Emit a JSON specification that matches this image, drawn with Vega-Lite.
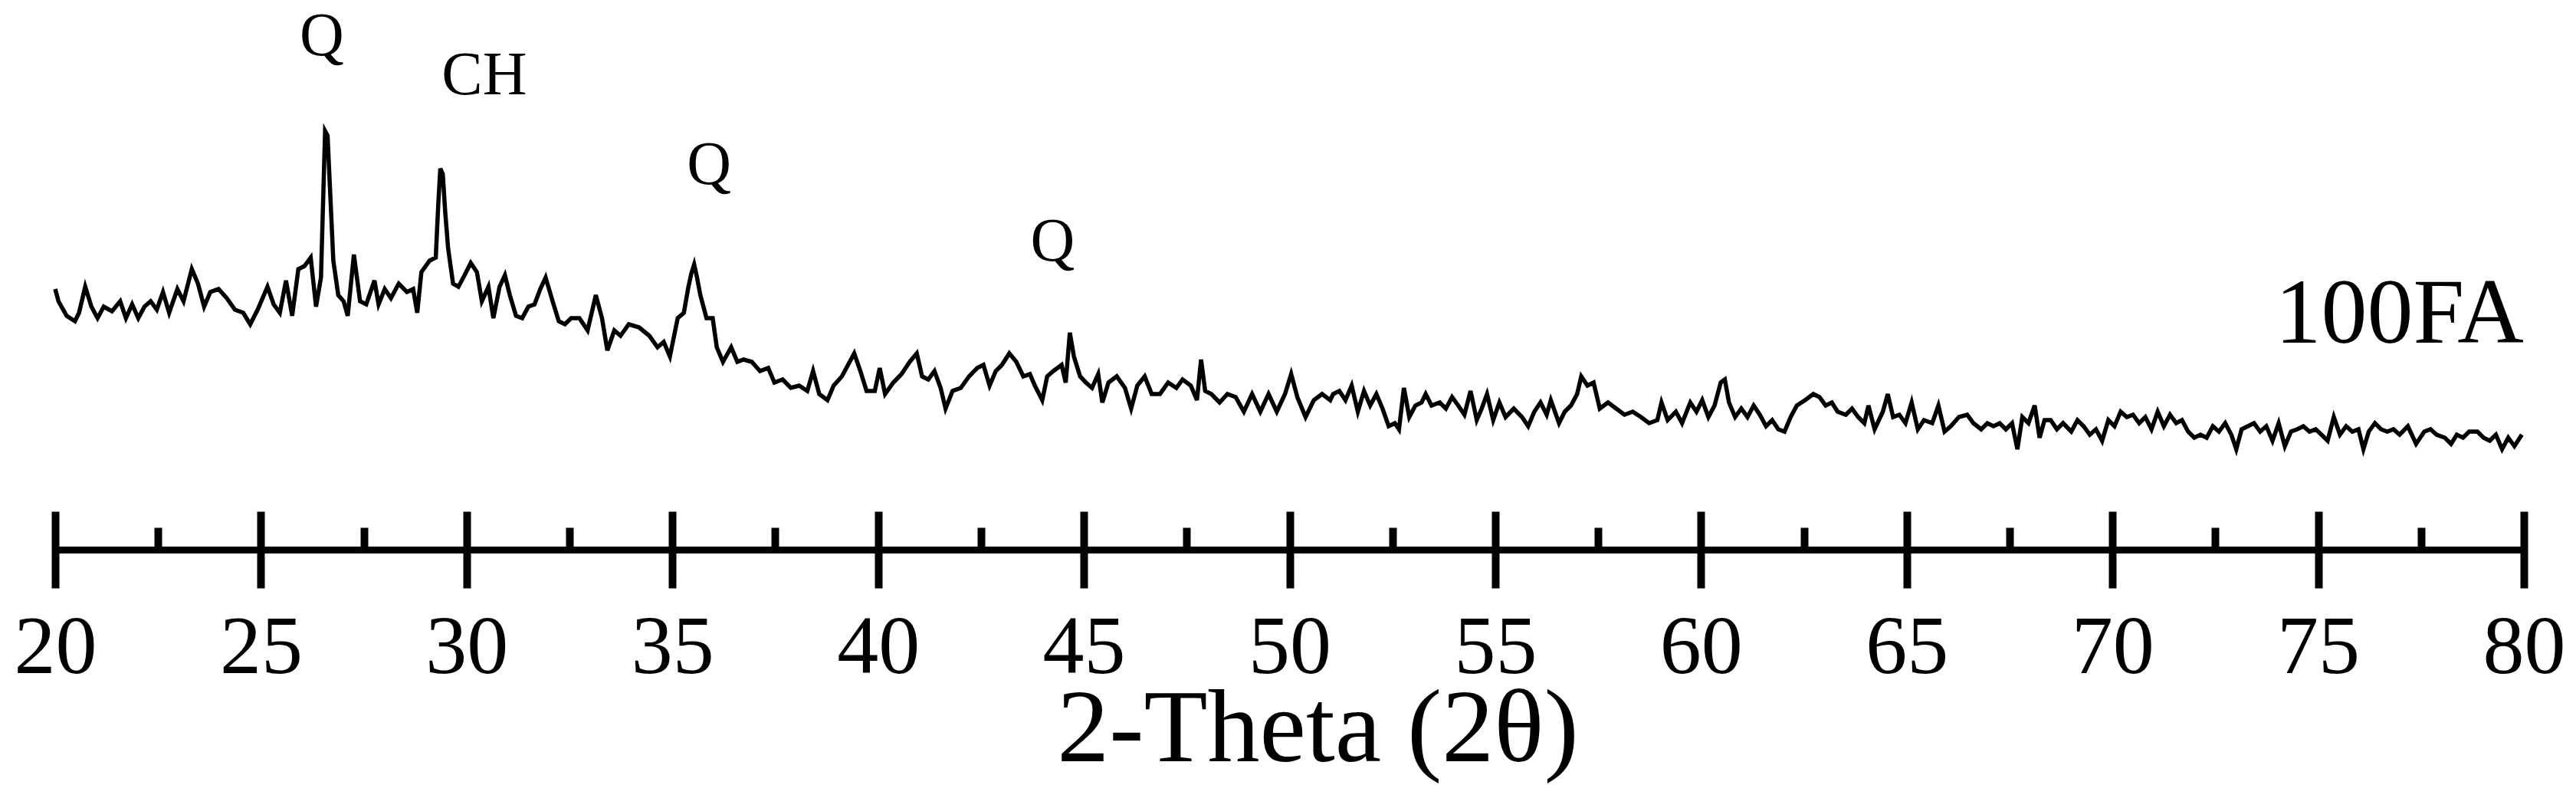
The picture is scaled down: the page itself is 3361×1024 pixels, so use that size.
{
  "$schema": "https://vega.github.io/schema/vega-lite/v6.json",
  "width": 3221,
  "height": 717,
  "autosize": {"type": "none"},
  "padding": {"left": 72, "top": 0, "right": 68, "bottom": 307},
  "background": "white",
  "config": {"view": {"stroke": null}, "font": "Liberation Serif"},
  "layer": [
    {
      "data": {"values": [
        {"angle":20.00,"intensity":340},{"angle":20.08,"intensity":324},{"angle":20.28,"intensity":305},{"angle":20.48,"intensity":298},{"angle":20.58,"intensity":309},{"angle":20.73,"intensity":343},{"angle":20.88,"intensity":317},{"angle":21.03,"intensity":302},{"angle":21.18,"intensity":317},{"angle":21.38,"intensity":311},{"angle":21.58,"intensity":324},{"angle":21.72,"intensity":302},{"angle":21.87,"intensity":320},{"angle":22.02,"intensity":302},{"angle":22.17,"intensity":317},{"angle":22.32,"intensity":324},{"angle":22.47,"intensity":313},{"angle":22.62,"intensity":336},{"angle":22.77,"intensity":309},{"angle":22.97,"intensity":340},{"angle":23.12,"intensity":324},{"angle":23.32,"intensity":366},{"angle":23.47,"intensity":347},{"angle":23.62,"intensity":317},{"angle":23.77,"intensity":336},{"angle":23.97,"intensity":340},{"angle":24.17,"intensity":328},{"angle":24.37,"intensity":313},{"angle":24.57,"intensity":309},{"angle":24.74,"intensity":294},{"angle":24.92,"intensity":313},{"angle":25.16,"intensity":343},{"angle":25.31,"intensity":320},{"angle":25.46,"intensity":309},{"angle":25.61,"intensity":351},{"angle":25.76,"intensity":305},{"angle":25.91,"intensity":366},{"angle":26.06,"intensity":370},{"angle":26.21,"intensity":381},{"angle":26.34,"intensity":317},{"angle":26.46,"intensity":355},{"angle":26.52,"intensity":470},{"angle":26.56,"intensity":546},{"angle":26.62,"intensity":540},{"angle":26.68,"intensity":470},{"angle":26.76,"intensity":377},{"angle":26.88,"intensity":332},{"angle":27.01,"intensity":324},{"angle":27.11,"intensity":305},{"angle":27.26,"intensity":385},{"angle":27.41,"intensity":324},{"angle":27.56,"intensity":320},{"angle":27.76,"intensity":351},{"angle":27.86,"intensity":320},{"angle":28.01,"intensity":340},{"angle":28.16,"intensity":328},{"angle":28.35,"intensity":347},{"angle":28.55,"intensity":336},{"angle":28.70,"intensity":340},{"angle":28.80,"intensity":309},{"angle":28.90,"intensity":362},{"angle":29.10,"intensity":377},{"angle":29.25,"intensity":381},{"angle":29.31,"intensity":450},{"angle":29.36,"intensity":497},{"angle":29.42,"intensity":490},{"angle":29.48,"intensity":440},{"angle":29.55,"intensity":393},{"angle":29.67,"intensity":347},{"angle":29.80,"intensity":343},{"angle":29.95,"intensity":358},{"angle":30.10,"intensity":374},{"angle":30.25,"intensity":362},{"angle":30.37,"intensity":324},{"angle":30.53,"intensity":343},{"angle":30.65,"intensity":302},{"angle":30.80,"intensity":343},{"angle":30.93,"intensity":358},{"angle":31.05,"intensity":332},{"angle":31.20,"intensity":305},{"angle":31.35,"intensity":302},{"angle":31.50,"intensity":317},{"angle":31.65,"intensity":320},{"angle":31.79,"intensity":340},{"angle":31.92,"intensity":355},{"angle":32.09,"intensity":324},{"angle":32.24,"intensity":298},{"angle":32.39,"intensity":294},{"angle":32.54,"intensity":302},{"angle":32.74,"intensity":302},{"angle":32.94,"intensity":286},{"angle":33.14,"intensity":332},{"angle":33.29,"intensity":302},{"angle":33.42,"intensity":260},{"angle":33.59,"intensity":286},{"angle":33.74,"intensity":279},{"angle":33.94,"intensity":294},{"angle":34.19,"intensity":290},{"angle":34.44,"intensity":279},{"angle":34.64,"intensity":264},{"angle":34.79,"intensity":271},{"angle":34.94,"intensity":252},{"angle":35.13,"intensity":302},{"angle":35.28,"intensity":309},{"angle":35.38,"intensity":340},{"angle":35.46,"intensity":360},{"angle":35.53,"intensity":372},{"angle":35.60,"intensity":355},{"angle":35.68,"intensity":332},{"angle":35.83,"intensity":302},{"angle":35.98,"intensity":302},{"angle":36.08,"intensity":264},{"angle":36.23,"intensity":245},{"angle":36.43,"intensity":264},{"angle":36.58,"intensity":245},{"angle":36.73,"intensity":248},{"angle":36.93,"intensity":245},{"angle":37.13,"intensity":233},{"angle":37.33,"intensity":237},{"angle":37.48,"intensity":218},{"angle":37.68,"intensity":222},{"angle":37.88,"intensity":211},{"angle":38.08,"intensity":214},{"angle":38.28,"intensity":207},{"angle":38.42,"intensity":233},{"angle":38.57,"intensity":203},{"angle":38.77,"intensity":195},{"angle":38.92,"intensity":214},{"angle":39.12,"intensity":226},{"angle":39.27,"intensity":241},{"angle":39.42,"intensity":256},{"angle":39.57,"intensity":233},{"angle":39.72,"intensity":207},{"angle":39.92,"intensity":207},{"angle":40.04,"intensity":237},{"angle":40.17,"intensity":203},{"angle":40.37,"intensity":218},{"angle":40.57,"intensity":229},{"angle":40.77,"intensity":245},{"angle":40.94,"intensity":256},{"angle":41.07,"intensity":226},{"angle":41.22,"intensity":222},{"angle":41.37,"intensity":233},{"angle":41.52,"intensity":211},{"angle":41.64,"intensity":184},{"angle":41.81,"intensity":207},{"angle":42.01,"intensity":211},{"angle":42.21,"intensity":226},{"angle":42.41,"intensity":237},{"angle":42.56,"intensity":241},{"angle":42.71,"intensity":214},{"angle":42.86,"intensity":233},{"angle":43.01,"intensity":241},{"angle":43.19,"intensity":256},{"angle":43.36,"intensity":245},{"angle":43.53,"intensity":226},{"angle":43.69,"intensity":229},{"angle":43.81,"intensity":214},{"angle":43.99,"intensity":195},{"angle":44.11,"intensity":226},{"angle":44.26,"intensity":233},{"angle":44.46,"intensity":241},{"angle":44.56,"intensity":218},{"angle":44.66,"intensity":283},{"angle":44.76,"intensity":252},{"angle":44.91,"intensity":226},{"angle":45.05,"intensity":218},{"angle":45.20,"intensity":211},{"angle":45.35,"intensity":229},{"angle":45.45,"intensity":192},{"angle":45.60,"intensity":218},{"angle":45.80,"intensity":226},{"angle":46.00,"intensity":211},{"angle":46.15,"intensity":184},{"angle":46.30,"intensity":214},{"angle":46.48,"intensity":226},{"angle":46.65,"intensity":203},{"angle":46.85,"intensity":203},{"angle":47.05,"intensity":218},{"angle":47.25,"intensity":211},{"angle":47.40,"intensity":222},{"angle":47.60,"intensity":214},{"angle":47.75,"intensity":195},{"angle":47.85,"intensity":248},{"angle":47.95,"intensity":207},{"angle":48.10,"intensity":203},{"angle":48.30,"intensity":192},{"angle":48.49,"intensity":203},{"angle":48.69,"intensity":199},{"angle":48.89,"intensity":180},{"angle":49.09,"intensity":203},{"angle":49.29,"intensity":180},{"angle":49.49,"intensity":203},{"angle":49.69,"intensity":180},{"angle":49.89,"intensity":203},{"angle":50.04,"intensity":229},{"angle":50.19,"intensity":199},{"angle":50.39,"intensity":173},{"angle":50.59,"intensity":195},{"angle":50.79,"intensity":203},{"angle":50.99,"intensity":195},
        {"angle":51.06,"intensity":203},{"angle":51.21,"intensity":207},{"angle":51.36,"intensity":195},{"angle":51.51,"intensity":214},{"angle":51.66,"intensity":180},{"angle":51.81,"intensity":207},{"angle":51.96,"intensity":188},{"angle":52.11,"intensity":203},{"angle":52.26,"intensity":184},{"angle":52.41,"intensity":161},{"angle":52.56,"intensity":165},{"angle":52.66,"intensity":157},{"angle":52.78,"intensity":211},{"angle":52.91,"intensity":173},{"angle":53.06,"intensity":188},{"angle":53.21,"intensity":192},{"angle":53.31,"intensity":203},{"angle":53.45,"intensity":188},{"angle":53.65,"intensity":192},{"angle":53.80,"intensity":184},{"angle":53.95,"intensity":199},{"angle":54.10,"intensity":188},{"angle":54.25,"intensity":176},{"angle":54.40,"intensity":207},{"angle":54.55,"intensity":169},{"angle":54.67,"intensity":184},{"angle":54.80,"intensity":203},{"angle":54.95,"intensity":169},{"angle":55.10,"intensity":192},{"angle":55.25,"intensity":173},{"angle":55.45,"intensity":184},{"angle":55.65,"intensity":173},{"angle":55.80,"intensity":161},{"angle":55.95,"intensity":180},{"angle":56.10,"intensity":192},{"angle":56.25,"intensity":176},{"angle":56.35,"intensity":195},{"angle":56.55,"intensity":165},{"angle":56.69,"intensity":180},{"angle":56.84,"intensity":188},{"angle":56.99,"intensity":203},{"angle":57.09,"intensity":226},{"angle":57.24,"intensity":214},{"angle":57.39,"intensity":218},{"angle":57.54,"intensity":184},{"angle":57.74,"intensity":192},{"angle":57.94,"intensity":184},{"angle":58.14,"intensity":176},{"angle":58.34,"intensity":180},{"angle":58.54,"intensity":173},{"angle":58.74,"intensity":165},{"angle":58.94,"intensity":169},{"angle":59.04,"intensity":192},{"angle":59.19,"intensity":169},{"angle":59.39,"intensity":180},{"angle":59.54,"intensity":165},{"angle":59.74,"intensity":192},{"angle":59.89,"intensity":180},{"angle":60.03,"intensity":195},{"angle":60.18,"intensity":173},{"angle":60.33,"intensity":188},{"angle":60.48,"intensity":218},{"angle":60.58,"intensity":222},{"angle":60.68,"intensity":192},{"angle":60.83,"intensity":173},{"angle":60.98,"intensity":184},{"angle":61.13,"intensity":173},{"angle":61.28,"intensity":188},{"angle":61.43,"intensity":176},{"angle":61.58,"intensity":161},{"angle":61.73,"intensity":169},{"angle":61.88,"intensity":157},{"angle":62.03,"intensity":154},{"angle":62.18,"intensity":173},{"angle":62.33,"intensity":188},{"angle":62.53,"intensity":195},{"angle":62.73,"intensity":203},{"angle":62.88,"intensity":199},{"angle":63.03,"intensity":188},{"angle":63.18,"intensity":192},{"angle":63.32,"intensity":180},{"angle":63.52,"intensity":176},{"angle":63.67,"intensity":184},{"angle":63.82,"intensity":173},{"angle":63.97,"intensity":165},{"angle":64.07,"intensity":188},{"angle":64.22,"intensity":157},{"angle":64.42,"intensity":180},{"angle":64.54,"intensity":203},{"angle":64.67,"intensity":173},{"angle":64.82,"intensity":176},{"angle":64.97,"intensity":165},{"angle":65.12,"intensity":192},{"angle":65.27,"intensity":157},{"angle":65.42,"intensity":169},{"angle":65.62,"intensity":165},{"angle":65.77,"intensity":188},{"angle":65.92,"intensity":154},{"angle":66.07,"intensity":161},{"angle":66.27,"intensity":173},{"angle":66.47,"intensity":176},{"angle":66.62,"intensity":165},
        {"angle":66.81,"intensity":157},{"angle":66.96,"intensity":165},{"angle":67.11,"intensity":161},{"angle":67.26,"intensity":165},{"angle":67.41,"intensity":157},{"angle":67.56,"intensity":165},{"angle":67.69,"intensity":131},{"angle":67.81,"intensity":173},{"angle":67.96,"intensity":165},{"angle":68.11,"intensity":188},{"angle":68.23,"intensity":146},{"angle":68.35,"intensity":169},{"angle":68.50,"intensity":169},{"angle":68.65,"intensity":157},{"angle":68.80,"intensity":165},{"angle":69.00,"intensity":154},{"angle":69.15,"intensity":169},{"angle":69.30,"intensity":161},{"angle":69.45,"intensity":150},{"angle":69.60,"intensity":157},{"angle":69.75,"intensity":142},{"angle":69.90,"intensity":169},{"angle":70.05,"intensity":161},{"angle":70.20,"intensity":180},{"angle":70.35,"intensity":173},{"angle":70.50,"intensity":176},{"angle":70.65,"intensity":165},{"angle":70.80,"intensity":173},{"angle":70.95,"intensity":157},{"angle":71.10,"intensity":180},{"angle":71.25,"intensity":161},{"angle":71.40,"intensity":176},{"angle":71.55,"intensity":165},{"angle":71.69,"intensity":169},{"angle":71.84,"intensity":154},{"angle":71.99,"intensity":146},{"angle":72.14,"intensity":150},{"angle":72.29,"intensity":146},{"angle":72.44,"intensity":161},{"angle":72.59,"intensity":154},{"angle":72.74,"intensity":165},{"angle":72.89,"intensity":150},{"angle":73.01,"intensity":131},{"angle":73.14,"intensity":157},{"angle":73.29,"intensity":161},{"angle":73.44,"intensity":165},{"angle":73.59,"intensity":154},{"angle":73.74,"intensity":161},{"angle":73.89,"intensity":142},{"angle":74.04,"intensity":165},{"angle":74.19,"intensity":135},{"angle":74.34,"intensity":154},{"angle":74.49,"intensity":157},{"angle":74.64,"intensity":161},{"angle":74.79,"intensity":154},{"angle":74.94,"intensity":157},{"angle":75.08,"intensity":150},{"angle":75.23,"intensity":142},{"angle":75.38,"intensity":173},{"angle":75.53,"intensity":150},{"angle":75.68,"intensity":161},{"angle":75.83,"intensity":154},{"angle":75.98,"intensity":157},{"angle":76.10,"intensity":131},{"angle":76.23,"intensity":154},{"angle":76.38,"intensity":165},{"angle":76.53,"intensity":157},{"angle":76.68,"intensity":154},{"angle":76.83,"intensity":157},{"angle":76.98,"intensity":150},{"angle":77.18,"intensity":161},{"angle":77.38,"intensity":138},{"angle":77.58,"intensity":154},{"angle":77.73,"intensity":157},{"angle":77.88,"intensity":150},{"angle":78.08,"intensity":146},{"angle":78.23,"intensity":138},{"angle":78.37,"intensity":150},{"angle":78.52,"intensity":146},{"angle":78.67,"intensity":154},{"angle":78.87,"intensity":154},{"angle":79.02,"intensity":146},{"angle":79.17,"intensity":142},{"angle":79.32,"intensity":150},{"angle":79.47,"intensity":131},{"angle":79.62,"intensity":146},{"angle":79.77,"intensity":135},{"angle":79.95,"intensity":150}
      ]},
      "mark": {"type": "line", "color": "black", "strokeWidth": 5.5},
      "encoding": {
        "x": {
          "field": "angle", "type": "quantitative",
          "scale": {"domain": [20, 80], "nice": false, "zero": false},
          "axis": {
            "orient": "bottom", "offset": -50, "domain": false, "grid": false,
            "values": [20, 25, 30, 35, 40, 45, 50, 55, 60, 65, 70, 75, 80],
            "tickSize": 100, "tickWidth": 10, "tickColor": "black",
            "labelFont": "Liberation Serif", "labelFontSize": 108, "labelColor": "black",
            "labelPadding": 110, "labelBaseline": "alphabetic", "labelFlush": false, "labelOverlap": false,
            "title": "2-Theta (2θ)", "titleFont": "Liberation Serif", "titleFontSize": 136,
            "titleFontWeight": "normal", "titleColor": "black",
            "titleX": 1647, "titleY": 325, "titleBaseline": "alphabetic", "titleAlign": "center"
          }
        },
        "y": {
          "field": "intensity", "type": "quantitative",
          "scale": {"domain": [0, 717], "nice": false},
          "axis": null
        }
      }
    },
    {
      "data": {"values": [
        {"angle": 26.48, "level": 645, "label": "Q"},
        {"angle": 30.43, "level": 594, "label": "CH"},
        {"angle": 35.89, "level": 477, "label": "Q"},
        {"angle": 44.24, "level": 377, "label": "Q"}
      ]},
      "mark": {"type": "text", "font": "Liberation Serif", "fontSize": 80, "baseline": "alphabetic", "align": "center", "color": "black"},
      "encoding": {
        "x": {
          "field": "angle", "type": "quantitative",
          "axis": {
            "orient": "bottom", "offset": 0, "domain": true, "domainColor": "black", "domainWidth": 9,
            "grid": false, "labels": false, "title": null,
            "values": [22.5, 27.5, 32.5, 37.5, 42.5, 47.5, 52.5, 57.5, 62.5, 67.5, 72.5, 77.5],
            "tickSize": -29, "tickWidth": 10, "tickColor": "black"
          }
        },
        "y": {"field": "level", "type": "quantitative"},
        "text": {"field": "label"}
      }
    },
    {
      "data": {"values": [
        {"angle": 80, "level": 270, "label": "100FA"}
      ]},
      "mark": {"type": "text", "font": "Liberation Serif", "fontSize": 120, "baseline": "alphabetic", "align": "right", "color": "black"},
      "encoding": {
        "x": {"field": "angle", "type": "quantitative", "axis": null},
        "y": {"field": "level", "type": "quantitative"},
        "text": {"field": "label"}
      }
    }
  ],
  "resolve": {"axis": {"x": "independent"}, "scale": {"x": "shared", "y": "shared"}}
}
